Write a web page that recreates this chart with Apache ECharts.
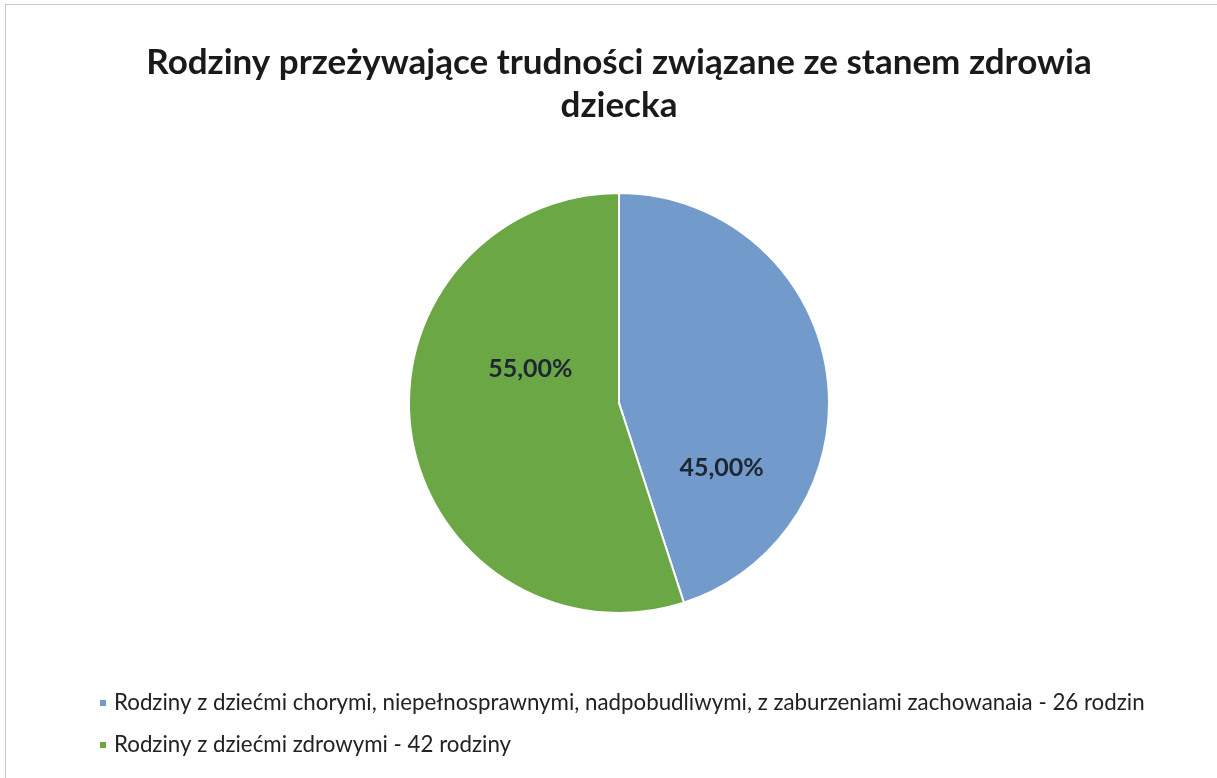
<!DOCTYPE html>
<html>
<head>
<meta charset="utf-8">
<script src="https://cdn.jsdelivr.net/npm/echarts@6/dist/echarts.min.js"></script>
<style>
html,body{margin:0;padding:0;background:#fff;}
#frame{position:absolute;left:5px;top:4px;width:1212px;height:774px;border-top:1px solid #c8c8c8;border-left:1px solid #c8c8c8;box-sizing:border-box;}
#chart{position:absolute;left:0;top:0;width:1217px;height:778px;}
</style>
</head>
<body>
<div id="frame"></div>
<div id="chart"></div>
<script>
var titleText = 'Rodziny przeżywające trudności związane ze stanem zdrowia\ndziecka';
var categories = [
  'Rodziny z dziećmi chorymi, niepełnosprawnymi, nadpobudliwymi, z zaburzeniami zachowanaia - 26 rodzin',
  'Rodziny z dziećmi zdrowymi - 42 rodziny'
];
var values = [45, 55];
var labelTexts = ['45,00%', '55,00%'];
var colors = ['#729bcc', '#6ca745'];

var chart = echarts.init(document.getElementById('chart'), null, {renderer: 'canvas'});
var labelOffsets = [[-4, 82], [18, -51]];
chart.setOption({
  backgroundColor: 'transparent',
  animation: false,
  title: {
    text: titleText,
    left: 614,
    textAlign: 'center',
    top: 36,
    textStyle: {
      fontFamily: 'Lato',
      fontWeight: 'bold',
      fontSize: 35,
      lineHeight: 43,
      color: '#1a1a1a'
    }
  },
  legend: {
    orient: 'vertical',
    left: 93,
    top: 685,
    itemWidth: 8,
    itemHeight: 8,
    itemGap: 16,
    icon: 'rect',
    textStyle: {
      fontFamily: 'Lato',
      fontSize: 22.3,
      lineHeight: 26,
      color: '#222',
      padding: [0, 0, 0, 2]
    },
    data: categories
  },
  series: [{
    type: 'pie',
    center: [619, 403],
    radius: 210,
    startAngle: 90,
    clockwise: true,
    itemStyle: {borderColor: '#fff', borderWidth: 2},
    label: {
      position: 'inside',
      fontFamily: 'Lato',
      fontWeight: 'bold',
      fontSize: 25,
      color: '#1e2633'
    },
    labelLine: {show: false},
    emphasis: {disabled: true},
    data: categories.map(function (c, i) {
      return {
        name: c,
        value: values[i],
        itemStyle: {color: colors[i]},
        label: {formatter: labelTexts[i], offset: labelOffsets[i]}
      };
    })
  }]
});
</script>
</body>
</html>
